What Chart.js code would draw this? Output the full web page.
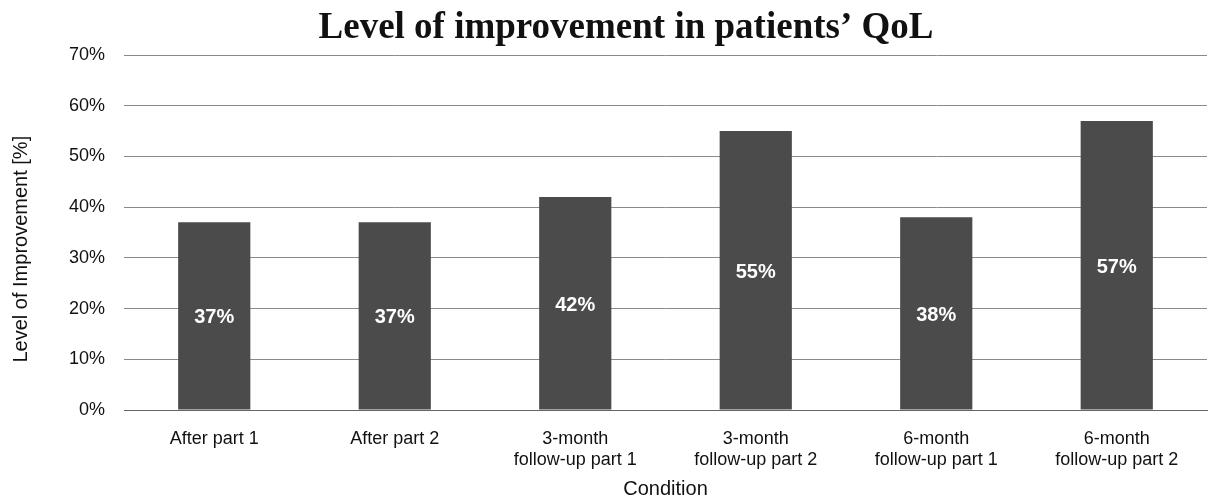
<!DOCTYPE html>
<html>
<head>
<meta charset="utf-8">
<script src="https://cdn.jsdelivr.net/npm/chart.js@4.4.1/dist/chart.umd.min.js"></script>
<style>
  html, body { margin: 0; padding: 0; background: #fff; }
  #wrap { width: 1209px; height: 499px; }
</style>
</head>
<body>
<div id="wrap"><canvas id="qolChart"></canvas></div>
<script>
const categories = [
    "After part 1",
    "After part 2",
    ["3-month", "follow-up part 1"],
    ["3-month", "follow-up part 2"],
    ["6-month", "follow-up part 1"],
    ["6-month", "follow-up part 2"]
];
const improvement = [37, 37, 42, 55, 38, 57];
const yTicks = [0, 10, 20, 30, 40, 50, 60, 70];

const chartTitle = 'Level of improvement in patients\u2019 QoL';

// white labels in the middle of each bar
const barLabels = {
    id: 'barLabels',
    afterDatasetsDraw(chart) {
        const c = chart.ctx;
        const meta = chart.getDatasetMeta(0);
        c.save();
        c.fillStyle = '#ffffff';
        c.font = 'bold 20px "Liberation Sans", Arial, sans-serif';
        c.textAlign = 'center';
        c.textBaseline = 'middle';
        meta.data.forEach((bar, i) => {
            const v = chart.data.datasets[0].data[i];
            c.fillText(v + '%', bar.x, (bar.y + bar.base) / 2 + 2);
        });
        c.restore();
    }
};

// title sits a bit right of the canvas centre in the original
const topTitle = {
    id: 'topTitle',
    afterDraw(chart) {
        const c = chart.ctx;
        c.save();
        c.fillStyle = '#111';
        c.font = 'bold 37px "Liberation Serif", "Times New Roman", serif';
        c.textAlign = 'center';
        c.textBaseline = 'alphabetic';
        c.fillText(chartTitle, 626, 38);
        c.restore();
    }
};

const whiteBg = {
    id: 'whiteBg',
    beforeDraw(chart) {
        const c = chart.ctx;
        c.save();
        c.fillStyle = '#fff';
        c.fillRect(0, 0, chart.width, chart.height);
        c.restore();
    }
};

const ctx = document.getElementById('qolChart').getContext('2d');

new Chart(ctx, {
    type: 'bar',
    data: {
        labels: categories,
        datasets: [{
            label: 'Level of Improvement',
            data: improvement,
            backgroundColor: '#4b4b4b',
            borderWidth: 0,
            barPercentage: 0.4,
            categoryPercentage: 1.0
        }]
    },
    options: {
        responsive: true,
        maintainAspectRatio: false,
        animation: false,
        layout: { padding: { top: 55, right: 2, left: 0, bottom: 0 } },
        plugins: {
            legend: { display: false },
            tooltip: { enabled: false },
            title: { display: false }
        },
        scales: {
            x: {
                grid: { display: false },
                border: { display: true, color: '#666', width: 1 },
                ticks: {
                    color: '#111',
                    padding: 10,
                    maxRotation: 0,
                    autoSkip: false,
                    font: { family: '"Liberation Sans", Arial, sans-serif', size: 18, lineHeight: 1.2 }
                },
                title: {
                    display: true,
                    text: 'Condition',
                    color: '#111',
                    padding: { top: 0, bottom: 0 },
                    font: { family: '"Liberation Sans", Arial, sans-serif', size: 20, lineHeight: 1.0 }
                },
                afterFit(scale) { scale.height = 89; }
            },
            y: {
                min: 0,
                max: 70,
                afterBuildTicks(scale) { scale.ticks = yTicks.map(v => ({ value: v })); },
                grid: { color: '#8a8a8a', lineWidth: 1, drawTicks: false },
                border: { display: false },
                ticks: {
                    color: '#111',
                    padding: 19,
                    callback: v => v + '%',
                    font: { family: '"Liberation Sans", Arial, sans-serif', size: 18 }
                },
                title: {
                    display: true,
                    // trailing spaces push the label down, as in the original
                    text: 'Level of Improvement [%]\u00a0\u00a0\u00a0\u00a0\u00a0\u00a0',
                    color: '#111',
                    padding: { top: 9, bottom: 0 },
                    font: { family: '"Liberation Sans", Arial, sans-serif', size: 20, lineHeight: 1.2 }
                },
                afterFit(scale) { scale.width = 124; }
            }
        }
    },
    plugins: [whiteBg, barLabels, topTitle]
});
</script>
</body>
</html>
